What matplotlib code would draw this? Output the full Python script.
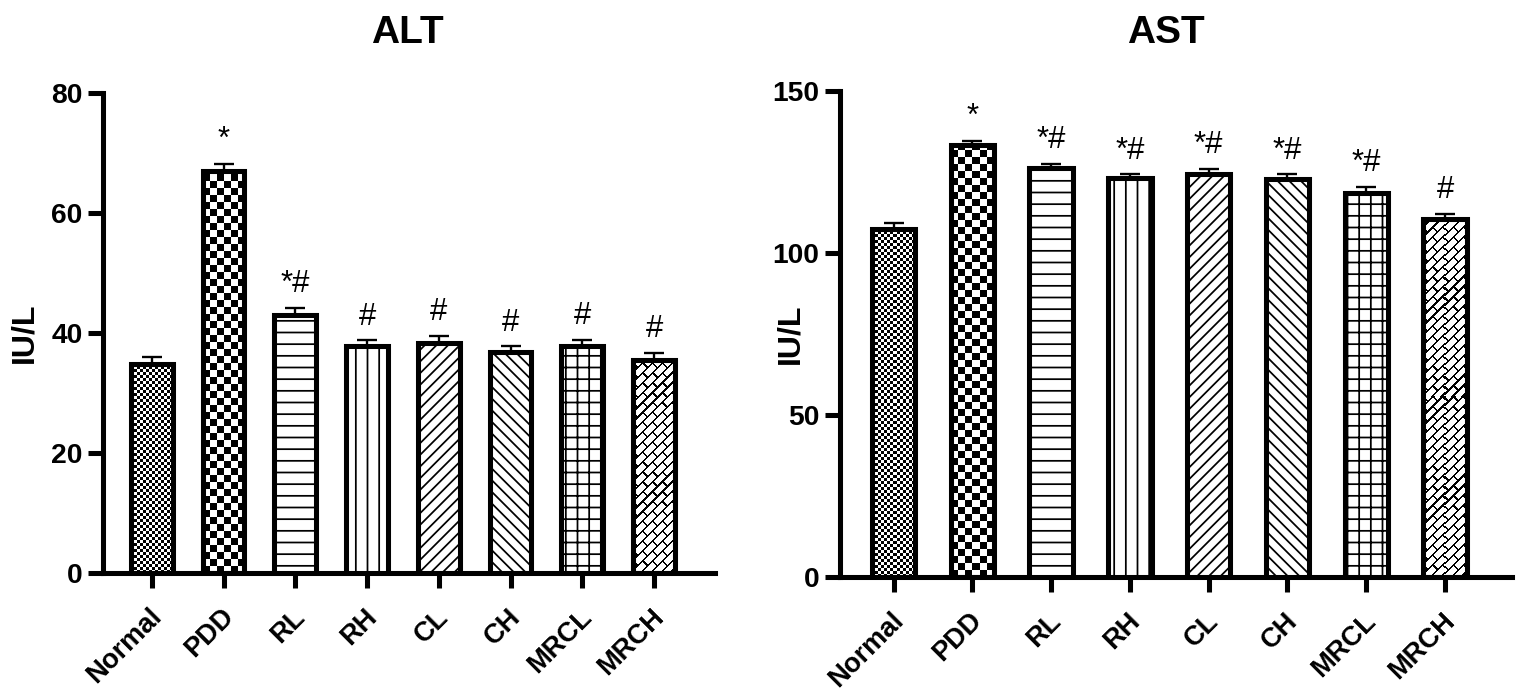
import numpy as np
import matplotlib
matplotlib.use("Agg")
import matplotlib.pyplot as plt
from matplotlib.transforms import ScaledTranslation

plt.rcParams['font.family'] = ['Liberation Sans', 'DejaVu Sans']
plt.rcParams['hatch.linewidth'] = 0.9

groups = ["Normal", "PDD", "RL", "RH", "CL", "CH", "MRCL", "MRCH"]

alt_mean = [34.8, 67.0, 43.0, 37.8, 38.4, 36.8, 37.9, 35.5]
alt_err = [1.2, 1.2, 1.2, 1.0, 1.1, 1.0, 1.0, 1.2]
alt_sig = ["", "*", "*#", "#", "#", "#", "#", "#"]

ast_mean = [107.5, 133.2, 126.3, 123.0, 124.4, 122.9, 118.5, 110.6]
ast_err = [1.8, 1.5, 1.3, 1.3, 1.6, 1.4, 2.0, 1.5]
ast_sig = ["", "*", "*#", "*#", "*#", "*#", "*#", "#"]

# fill style per group: image texture or matplotlib hatch
fills = ["fine", "coarse", "--", "||", "////", "\\\\\\\\", "++", "brick"]

DPI = 140
W, H = 1526, 698
fig = plt.figure(figsize=(W / DPI, H / DPI), dpi=DPI)


def texture(kind, h, w):
    ii, jj = np.meshgrid(np.arange(h), np.arange(w), indexing="ij")
    if kind == "fine":
        return ((ii // 3 + jj // 3) % 2).astype(float)
    if kind == "coarse":
        return ((ii // 7 + jj // 7) % 2).astype(float)
    # diagonal bricks
    u = (jj + ii) / np.sqrt(2)
    v = (ii - jj) / np.sqrt(2) + 1000
    bh, bl = 7.0, 14.0
    row = np.floor(v / bh)
    mortar = (v % bh < 1.6) | (((u + (row % 2) * bl / 2) % bl) < 1.6)
    return (~mortar).astype(float)


def panel(rect, means, errs, sigs, ymax, yticks, width, title, title_xy, ylab_xy):
    ax = fig.add_axes(rect)
    x = np.arange(len(groups))
    ax.set_xlim(-0.68, len(groups) - 1 + 0.85)
    ax.set_ylim(0, ymax)
    ax.errorbar(x, means, yerr=[np.zeros(len(errs)), errs], fmt="none",
                ecolor="black", elinewidth=1.2, capsize=5, capthick=1.2, zorder=1)
    bars = ax.bar(x, means, width=width, facecolor="white", edgecolor="black",
                  linewidth=2.6, zorder=3)
    for b, f in zip(bars, fills):
        if f in ("fine", "coarse", "brick"):
            x0, y0 = b.get_x(), b.get_y()
            x1, y1 = x0 + b.get_width(), y0 + b.get_height()
            (p0, q0), (p1, q1) = ax.transData.transform([(x0, y0), (x1, y1)])
            img = texture(f, int(round(q1 - q0)), int(round(p1 - p0)))
            ax.imshow(img, extent=(x0, x1, y0, y1), origin="lower", cmap="gray",
                      vmin=0, vmax=1, interpolation="nearest", aspect="auto",
                      zorder=2, clip_path=b, clip_on=True)
            b.set_facecolor("none")
        else:
            b.set_hatch(f)
    ax.set_xlim(-0.68, len(groups) - 1 + 0.85)
    ax.set_ylim(0, ymax)
    for xi, m, e, s in zip(x, means, errs, sigs):
        if s:
            ax.annotate(s, xy=(xi, m + e), xytext=(0, 8), textcoords="offset points",
                        ha="center", va="baseline", fontsize=16)
    ax.spines[["top", "right"]].set_visible(False)
    for sp in ("left", "bottom"):
        ax.spines[sp].set_linewidth(2.6)
    ax.set_yticks(yticks)
    ax.set_yticklabels([str(t) for t in yticks], fontsize=14.5, fontweight="bold")
    ax.set_xticks(x)
    ax.set_xticklabels(groups, fontsize=14, fontweight="bold", rotation=45,
                       ha="right", va="center", rotation_mode="anchor")
    ax.tick_params(axis="both", length=7.5, width=2.6, pad=3)
    ax.tick_params(axis="x", pad=13)
    shift = ScaledTranslation(3 / 72, 0, fig.dpi_scale_trans)
    for lab in ax.get_xticklabels():
        lab.set_transform(lab.get_transform() + shift)
    fig.text(title_xy[0] / W, 1 - title_xy[1] / H, title, ha="center", va="center",
             fontsize=20, fontweight="bold")
    fig.text(ylab_xy[0] / W, 1 - ylab_xy[1] / H, "IU/L", ha="center", va="center",
             rotation=90, fontsize=16.5, fontweight="bold")
    return ax


panel([103 / W, 125 / H, 612 / W, 480 / H], alt_mean, alt_err, alt_sig, 80,
      [0, 20, 40, 60, 80], 0.58, "ALT", (407, 33), (24, 333))
panel([840 / W, 121 / H, 672 / W, 486 / H], ast_mean, ast_err, ast_sig, 150,
      [0, 50, 100, 150], 0.55, "AST", (1166, 33), (790, 334))

fig.savefig("out.png", dpi=DPI)
